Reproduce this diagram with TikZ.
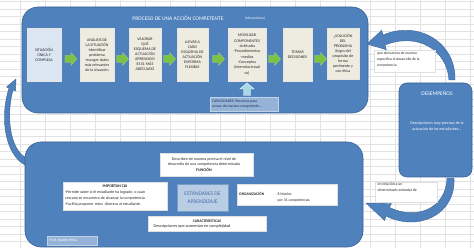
\documentclass[tikz,border=0pt]{standalone}
\usepackage{fontspec}
\setmainfont{Carlito}
\definecolor{panel}{HTML}{4F81BD}
\definecolor{paneledge}{HTML}{3A6496}
\definecolor{beige}{HTML}{EEECE1}
\definecolor{sitblue}{HTML}{DCE6F2}
\definecolor{capblue}{HTML}{95B3D7}
\definecolor{estblue}{HTML}{B9CDE5}
\definecolor{estedge}{HTML}{7A9CCB}
\definecolor{esttext}{HTML}{4A6FA5}
\definecolor{grnc}{HTML}{7DC243}
\definecolor{upcyan}{HTML}{A8D8E6}
\definecolor{gridc}{HTML}{E2E2E2}
\definecolor{txt}{HTML}{262626}
\definecolor{navy}{HTML}{1F3050}
\begin{document}
\begin{tikzpicture}[x=1pt,y=-1pt,
  panelbox/.style={fill=panel,draw=paneledge,line width=0.6pt,rounded corners=16pt,inner sep=0pt},
  stepbox/.style={fill=beige,draw=white!80!gray,line width=0.3pt,inner sep=0pt,align=center,
    font=\fontsize{4}{5}\selectfont,text=txt,minimum height=53pt},
  whitebox/.style={fill=white,draw=white!75!gray,line width=0.3pt,inner sep=0pt},
  small/.style={font=\fontsize{3.8}{5.5}\selectfont,text=txt,inner sep=0pt},
  grnarrow/.pic={\fill[grnc,draw=grnc!70!white,line width=0.3pt] (0,-3.5) -- (6,-3.5) -- (6,-6.5) -- (12,0) -- (6,6.5) -- (6,3.5) -- (0,3.5) -- cycle;},
  curvarrow/.style={fill=panel,draw=paneledge,line width=0.4pt}
]
\useasboundingbox (0,0) rectangle (474,248);
\fill[white] (0,0) rectangle (474,248);
% spreadsheet grid
\foreach \k in {0,...,32} \draw[gridc,line width=0.3pt] (0,1.5+7.5*\k) -- (474,1.5+7.5*\k);
\foreach \k in {0,...,18} \draw[gridc,line width=0.3pt] (20+25*\k,0) -- (20+25*\k,248);

% curved arrows
\path[curvarrow] (455,80) .. controls (456,42) and (418,20) .. (383,35) -- (381.7,30.3) -- (367,44) -- (386.3,49.7) -- (385,45) .. controls (418,32) and (447,50) .. (449,80) -- cycle;
\path[curvarrow] (454,178) .. controls (456,215) and (418,232) .. (386,216) -- (384.6,220.5) -- (366,203) -- (391.4,203.6) -- (389.5,207.5) .. controls (415,220) and (446,210) .. (447,178) -- cycle;
\path[curvarrow] (25,165) .. controls (6,155) and (-1,120) .. (9,88) -- (6.5,87) -- (16,79) -- (15.5,91) -- (13,90) .. controls (5,120) and (12,150) .. (25,157) -- cycle;

% top panel
\node[panelbox,minimum width=346pt,minimum height=106pt] (top) at (195,60) {};
\node[text=white,font=\fontsize{5.5}{6}\selectfont,inner sep=0pt] (title) at (178,18) {PROCESO DE UNA ACCIÓN COMPETENTE};
\node[text=white,font=\fontsize{3.5}{4}\selectfont,inner sep=0pt] (mec) at (255,18.3) {(Mecanismos)};

\node[stepbox,fill=sitblue,minimum width=34pt] (b1) at (44,54.5) {SITUACIÓN\\ÚNICA Y\\COMPLEJA};
\node[stepbox,minimum width=34pt] (b2) at (97,54.5) {ANÁLISIS DE\\LA SITUACIÓN\\-Identificar\\problema\\-escoger datos\\más relevantes\\de la situación};
\node[stepbox,minimum width=32pt] (b3) at (145,54.5) {VALORAR\\QUÉ\\ESQUEMA DE\\ACTUACIÓN\\APRENDIDO\\ES EL MÁS\\ADECUADO};
\node[stepbox,minimum width=31pt] (b4) at (192.5,54.5) {LLEVAR A\\CABO\\ESQUEMA DE\\ACTUACIÓN\\ENFORMA\\FLEXIBLE};
\node[stepbox,minimum width=38pt,font=\fontsize{4}{5.3}\selectfont] (b5) at (247,54.5) {MOVILIZAR\\COMPONENTES\\-Actitudes\\-Procedimientos\\-medios\\-Conceptos\\(interrelacionad\\os)};
\node[stepbox,minimum width=29pt] (b6) at (297.5,54.5) {TOMAR\\DECISIONES};
\node[stepbox,minimum width=32pt,minimum height=51pt] (b7) at (343,53.5) {¿SOLUCIÓN\\DEL\\PROBLEMA\\(logro del\\propósito de\\forma\\pertinente y\\con ética};

\pic at (65,59) {grnarrow};
\pic at (116.5,59) {grnarrow};
\pic at (163.5,59) {grnarrow};
\pic at (212.5,59) {grnarrow};
\pic at (268.5,59) {grnarrow};
\pic at (314.5,59) {grnarrow};

% capacidades
\node[fill=capblue,draw=capblue!60!white,line width=0.4pt,minimum width=68pt,minimum height=14pt,inner sep=0pt] (cap) at (244,104) {};
\node[small,text=navy,align=left,anchor=west] (captxt) at (212,104) {CAPACIDADES: Recursos para\\actuar de manera competente...};
\fill[upcyan,draw=white,line width=0.4pt] (247,83) -- (254,89) -- (250.5,89) -- (250.5,95.5) -- (243.5,95.5) -- (243.5,89) -- (240,89) -- cycle;

% right side
\node[whitebox,minimum width=61pt,minimum height=22pt] (qbox) at (404.5,61) {};
\node[small,align=left,anchor=north west,font=\fontsize{3.7}{6}\selectfont] (qtxt) at (377,51.5) {que demuestra de manera\\específica el desarrollo de la\\competencia};

\node[panelbox,rounded corners=8pt,minimum width=73pt,minimum height=94pt] (des) at (435.5,130) {};
\node[text=white,font=\fontsize{5.5}{6}\selectfont,inner sep=0pt] (destit) at (437,93) {DESEMPEÑOS};
\node[text=white,font=\fontsize{4}{6}\selectfont,inner sep=0pt,align=center] (destxt) at (437,126) {Descripciones muy precisas de la\\actuación de los estudiantes...};

\node[whitebox,minimum width=62pt,minimum height=20pt] (ebox) at (406,192) {};
\node[small,align=left,anchor=north west,font=\fontsize{3.8}{5.8}\selectfont] (etxt) at (377.5,183) {en relación a un\\determinado estándar de};

% bottom panel
\node[panelbox,minimum width=338pt,minimum height=105pt] (bot) at (194,194.5) {};

\node[whitebox,minimum width=93pt,minimum height=23pt] (fbox) at (206.5,164.5) {};
\node[small,align=center,font=\fontsize{4}{5.5}\selectfont] (ftxt) at (204,164.5) {Describen de manera precisa el nivel de\\desarrollo de una competencia determinada\\\textbf{FUNCIÓN}};

\node[whitebox,minimum width=104pt,minimum height=28pt] (ibox) at (115,196) {};
\node[small,font=\fontsize{4}{5}\selectfont\bfseries] (ititle) at (115,186.5) {IMPORTAN CIA};
\node[small,align=left,anchor=west,font=\fontsize{4}{6}\selectfont] (itxt) at (65,198.5) {-Permite saber si el estudiante ha logrado \ o cuán\\cercano se encuentra de alcanzar la competencia.\\-Facilita proponer retos \ diversos al estudiante.};

\node[fill=estblue,draw=estedge,line width=0.8pt,minimum width=51pt,minimum height=27pt,inner sep=0pt,align=center,text=esttext,font=\fontsize{5.5}{8}\selectfont] (est) at (202.5,197.5) {ESTÁNDARES DE\\APRENDIZAJE};

\node[whitebox,minimum width=100pt,minimum height=21pt] (obox) at (287,194.5) {};
\node[small,anchor=west,font=\fontsize{3.8}{5}\selectfont\bfseries] (otit) at (239,194.3) {ORGANIZACIÓN};
\node[small,align=left,anchor=west,font=\fontsize{3.8}{6}\selectfont] (otxt) at (277.5,197.2) {8 Niveles\\por 31 competencias};

\node[whitebox,minimum width=118pt,minimum height=15pt] (cbox) at (207,223.5) {};
\node[small,font=\fontsize{3.8}{5}\selectfont\bfseries] (ctit) at (207,220.5) {CARACTERÍSTICAS};
\node[small,font=\fontsize{4.2}{5}\selectfont] (ctxt) at (192,226.7) {Descripciones que aumentan en complejidad};

\node[fill=capblue,draw=capblue!60!white,line width=0.3pt,minimum width=50pt,minimum height=9pt,inner sep=0pt] (prof) at (72,240.5) {};
\node[small,text=white,anchor=west] (proftxt) at (49.5,240.5) {Prof. Martín Peña};
\end{tikzpicture}
\end{document}
